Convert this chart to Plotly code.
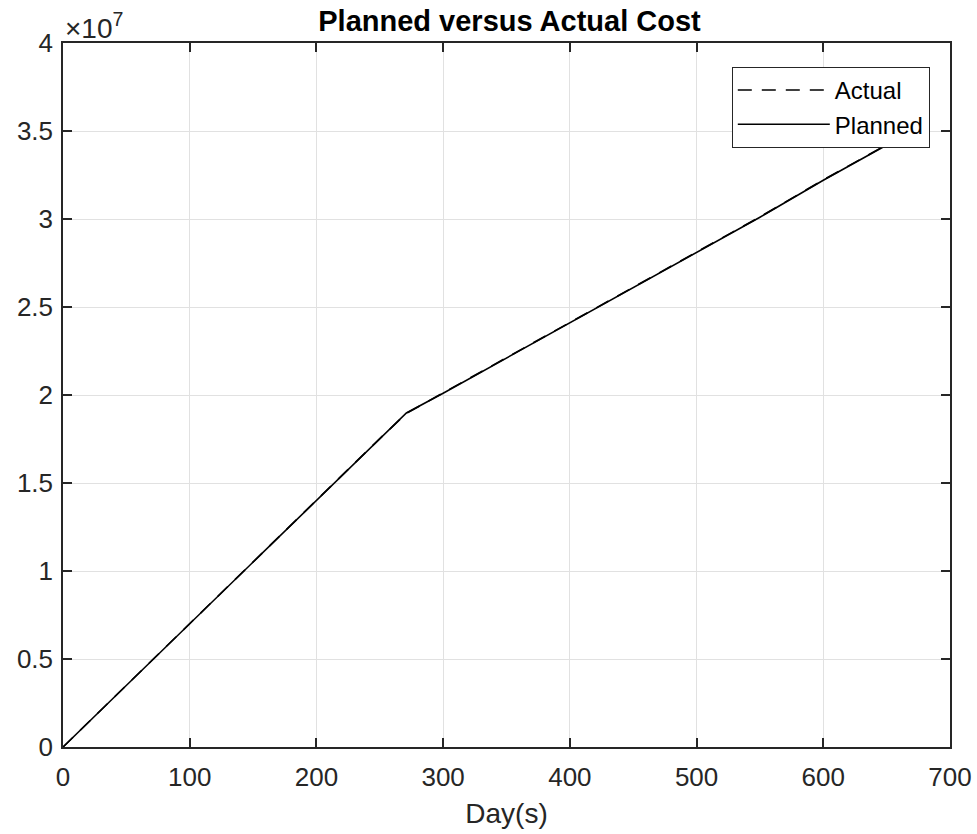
import plotly.graph_objects as go

# Data
days = [0, 50, 100, 150, 200, 250, 271, 300, 350, 400, 450, 500, 550, 600, 650, 675]
planned = [0, 0.35e7, 0.70e7, 1.05e7, 1.40e7, 1.75e7, 1.898e7, 2.01e7, 2.21e7,
           2.41e7, 2.61e7, 2.81e7, 3.01e7, 3.22e7, 3.42e7, 3.52e7]
actual = [0, 0.352e7, 0.702e7, 1.052e7, 1.402e7, 1.752e7, 1.896e7, 2.012e7, 2.212e7,
          2.412e7, 2.612e7, 2.812e7, 3.012e7, 3.222e7, 3.422e7, 3.522e7]

x_ticks = [0, 100, 200, 300, 400, 500, 600, 700]
y_tickvals = [0, 0.5e7, 1e7, 1.5e7, 2e7, 2.5e7, 3e7, 3.5e7, 4e7]
y_ticktext = ["0", "0.5", "1", "1.5", "2", "2.5", "3", "3.5", "4"]

FONT = "Liberation Sans, Arial, sans-serif"
AX = "#262626"

fig = go.Figure()
fig.add_trace(go.Scatter(x=days, y=actual, mode="lines", name="Actual",
                         line=dict(color="black", width=1.6, dash="14px,10px")))
fig.add_trace(go.Scatter(x=days, y=planned, mode="lines", name="Planned",
                         line=dict(color="black", width=1.6)))

axis_common = dict(
    showline=True, linecolor=AX, linewidth=1.5, mirror="ticks",
    ticks="inside", ticklen=9, tickwidth=1.5, tickcolor=AX,
    showgrid=True, gridcolor="#e1e1e1", gridwidth=1,
    zeroline=False, automargin=False,
    tickfont=dict(family=FONT, size=26, color=AX),
)

fig.update_layout(
    width=977, height=834,
    margin=dict(l=63, r=27, t=43, b=87),
    paper_bgcolor="white", plot_bgcolor="white",
    title=dict(text="<b>Planned versus Actual Cost</b>", x=0.5215, xanchor="center",
               y=1 - 21 / 834, yanchor="middle", yref="container",
               font=dict(family=FONT, size=29, color="black")),
    xaxis=dict(range=[0, 700], tickvals=x_ticks, ticktext=[str(v) for v in x_ticks],
               ticklabelstandoff=6,
               title=dict(text="Day(s)", font=dict(family=FONT, size=28, color=AX), standoff=12),
               **axis_common),
    yaxis=dict(range=[0, 4e7], tickvals=y_tickvals, ticktext=y_ticktext,
               ticklabelstandoff=3, **axis_common),
    legend=dict(x=0.754, y=0.966, xanchor="left", yanchor="top",
                bgcolor="white", bordercolor=AX, borderwidth=1,
                font=dict(family=FONT, size=24, color="black"),
                itemwidth=92, tracegroupgap=0),
    showlegend=True,
)

fig.add_annotation(text="×10<sup>7</sup>", xref="paper", yref="paper",
                   x=0.0, y=1.0, xanchor="left", yanchor="bottom", showarrow=False,
                   font=dict(family=FONT, size=28, color=AX), yshift=-3)

fig.write_html("out.html")
